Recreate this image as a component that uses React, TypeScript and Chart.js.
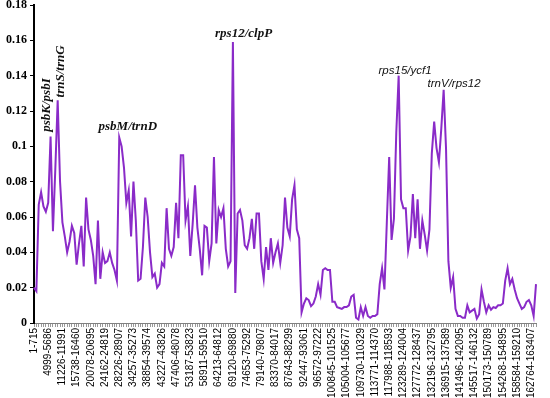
import React, { useEffect, useRef } from 'react';
import { Chart, registerables } from 'chart.js';

Chart.register(...registerables);

// Sliding-window labels shown on the x axis (one every `pointsPerLabel` windows)
const windowLabels: string[] = [
  '1-715', '4999-5686', '11226-11991', '15738-16460', '20078-20695', '24162-24819',
  '28226-28907', '34257-35273', '38854-39574', '43227-43826', '47406-48078', '53187-53823',
  '58911-59510', '64213-64812', '69120-69880', '74653-75292', '79140-79807', '83370-84017',
  '87643-88299', '92447-93061', '96572-97222', '100845-101525', '105004-105677', '109730-110329',
  '113771-114370', '117988-118593', '123289-124004', '127772-128437', '132196-132795', '136915-137589',
  '141496-142095', '145517-146132', '150173-150789', '154268-154895', '158584-159210', '162764-163407',
];
const pointsPerLabel = 6;

// Nucleotide diversity (Pi) per window
const diversity: number[] = [
  0.020, 0.018, 0.067, 0.074, 0.066, 0.063, 0.068, 0.1055, 0.052, 0.087,
  0.126, 0.080, 0.057, 0.049, 0.040, 0.046, 0.055, 0.051, 0.033, 0.045,
  0.055, 0.032, 0.071, 0.053, 0.047, 0.038, 0.022, 0.058, 0.025, 0.040,
  0.034, 0.035, 0.040, 0.034, 0.030, 0.024, 0.105, 0.100, 0.088, 0.068,
  0.075, 0.049, 0.080, 0.058, 0.024, 0.025, 0.043, 0.071, 0.060, 0.040,
  0.026, 0.028, 0.020, 0.022, 0.034, 0.032, 0.065, 0.042, 0.038, 0.043,
  0.068, 0.048, 0.095, 0.095, 0.058, 0.066, 0.038, 0.056, 0.078, 0.054,
  0.042, 0.027, 0.055, 0.054, 0.035, 0.045, 0.094, 0.045, 0.064, 0.060,
  0.065, 0.042, 0.032, 0.035, 0.159, 0.017, 0.062, 0.064, 0.058, 0.044,
  0.042, 0.048, 0.059, 0.042, 0.062, 0.062, 0.035, 0.025, 0.043, 0.030,
  0.048, 0.034, 0.040, 0.045, 0.034, 0.044, 0.071, 0.054, 0.049, 0.070,
  0.078, 0.053, 0.048, 0.006, 0.011, 0.014, 0.013, 0.0095, 0.011, 0.015,
  0.022, 0.016, 0.030, 0.031, 0.030, 0.030, 0.012, 0.012, 0.009, 0.0085,
  0.008, 0.009, 0.009, 0.010, 0.015, 0.016, 0.003, 0.002, 0.009, 0.004,
  0.009, 0.004, 0.003, 0.004, 0.004, 0.005, 0.022, 0.031, 0.019, 0.057,
  0.094, 0.047, 0.059, 0.108, 0.140, 0.070, 0.065, 0.065, 0.041, 0.049,
  0.073, 0.048, 0.070, 0.042, 0.058, 0.050, 0.041, 0.053, 0.096, 0.114,
  0.099, 0.091, 0.110, 0.132, 0.099, 0.035, 0.020, 0.026, 0.008, 0.004,
  0.004, 0.003, 0.003, 0.010, 0.006, 0.007, 0.008, 0.0025, 0.005, 0.019,
  0.012, 0.006, 0.010, 0.0075, 0.009, 0.0085, 0.010, 0.010, 0.011, 0.024,
  0.031, 0.022, 0.025, 0.019, 0.014, 0.011, 0.008, 0.009, 0.012, 0.013,
  0.010, 0.004, 0.022,
];

// Hotspot region names
const peakNames: string[] = ['psbK/psbI', 'trnS/trnG', 'psbM/trnD', 'rps12/clpP', 'rps15/ycf1', 'trnV/rps12'];

const categories = diversity.map((_, i) =>
  i % pointsPerLabel === 0 ? windowLabels[i / pointsPerLabel] ?? '' : ''
);

const serifLabel = 'italic bold 13px "Liberation Serif", serif';
const sansLabel = 'italic 11.5px "Liberation Sans", Arial, sans-serif';

// Where each hotspot name is written (in axis units: window index, Pi level)
const annotations = [
  { name: peakNames[0], at: 5.15, level: 0.1234, rotate: true, font: serifLabel },
  { name: peakNames[1], at: 11.2, level: 0.1424, rotate: true, font: serifLabel },
  { name: peakNames[2], at: 39.6, level: 0.1109, rotate: false, font: serifLabel },
  { name: peakNames[3], at: 88.5, level: 0.164, rotate: false, font: serifLabel },
  { name: peakNames[4], at: 156.7, level: 0.143, rotate: false, font: sansLabel },
  { name: peakNames[5], at: 177.4, level: 0.1356, rotate: false, font: sansLabel },
];

const peakLabelPlugin = {
  id: 'peakLabels',
  afterDatasetsDraw(chart: any) {
    const { ctx } = chart;
    const x = chart.scales.x;
    const y = chart.scales.y;
    annotations.forEach((a) => {
      const px = x.getPixelForValue(a.at);
      const py = y.getPixelForValue(a.level);
      ctx.save();
      ctx.translate(px, py);
      if (a.rotate) ctx.rotate(-Math.PI / 2);
      ctx.font = a.font;
      ctx.fillStyle = '#111';
      ctx.textAlign = 'center';
      ctx.textBaseline = 'middle';
      ctx.fillText(a.name, 0, 0);
      ctx.restore();
    });
  },
};

export default function App() {
  const canvasRef = useRef<HTMLCanvasElement | null>(null);

  useEffect(() => {
    if (!canvasRef.current) return;
    const chart = new Chart(canvasRef.current, {
      type: 'line',
      data: {
        labels: categories,
        datasets: [
          {
            data: diversity,
            borderColor: '#8A2BC8',
            borderWidth: 2,
            pointRadius: 0,
            tension: 0,
            fill: false,
          },
        ],
      },
      options: {
        animation: false,
        responsive: true,
        maintainAspectRatio: false,
        devicePixelRatio: 1,
        layout: { padding: { top: 5, right: 14, left: 0, bottom: 0 } },
        plugins: {
          legend: { display: false },
          tooltip: { enabled: false },
        },
        scales: {
          x: {
            type: 'category',
            offset: false,
            grid: {
              display: true,
              drawOnChartArea: false,
              drawTicks: true,
              tickLength: 4,
              color: '#9a9a9a',
              lineWidth: 1,
            },
            border: { display: true, color: '#808080', width: 1 },
            ticks: {
              autoSkip: false,
              maxRotation: 90,
              minRotation: 90,
              padding: 1,
              color: '#000',
              font: { family: '"Liberation Sans", Arial, sans-serif', size: 10 },
            },
            afterFit: (s: any) => {
              s.height = 75;
              s.paddingLeft = 0;
              s.paddingRight = 0;
            },
          },
          y: {
            min: 0,
            max: 0.18,
            ticks: {
              stepSize: 0.02,
              padding: 3,
              color: '#000',
              font: { family: '"Liberation Serif", serif', size: 12, weight: 'bold' },
              callback: (v: any) => String(+Number(v).toFixed(2)),
            },
            grid: {
              drawOnChartArea: false,
              drawTicks: true,
              tickLength: 4,
              color: '#000',
              lineWidth: 1,
            },
            border: { display: true, color: '#000', width: 2 },
            afterFit: (s: any) => {
              s.width = 34;
              s.paddingTop = 0;
              s.paddingBottom = 0;
            },
          },
        },
      },
      plugins: [peakLabelPlugin],
    } as any);
    return () => chart.destroy();
  }, []);

  return (
    <div style={{ position: 'absolute', left: 0, top: 0, width: 550, height: 398, background: '#fff' }}>
      <canvas ref={canvasRef} />
    </div>
  );
}
